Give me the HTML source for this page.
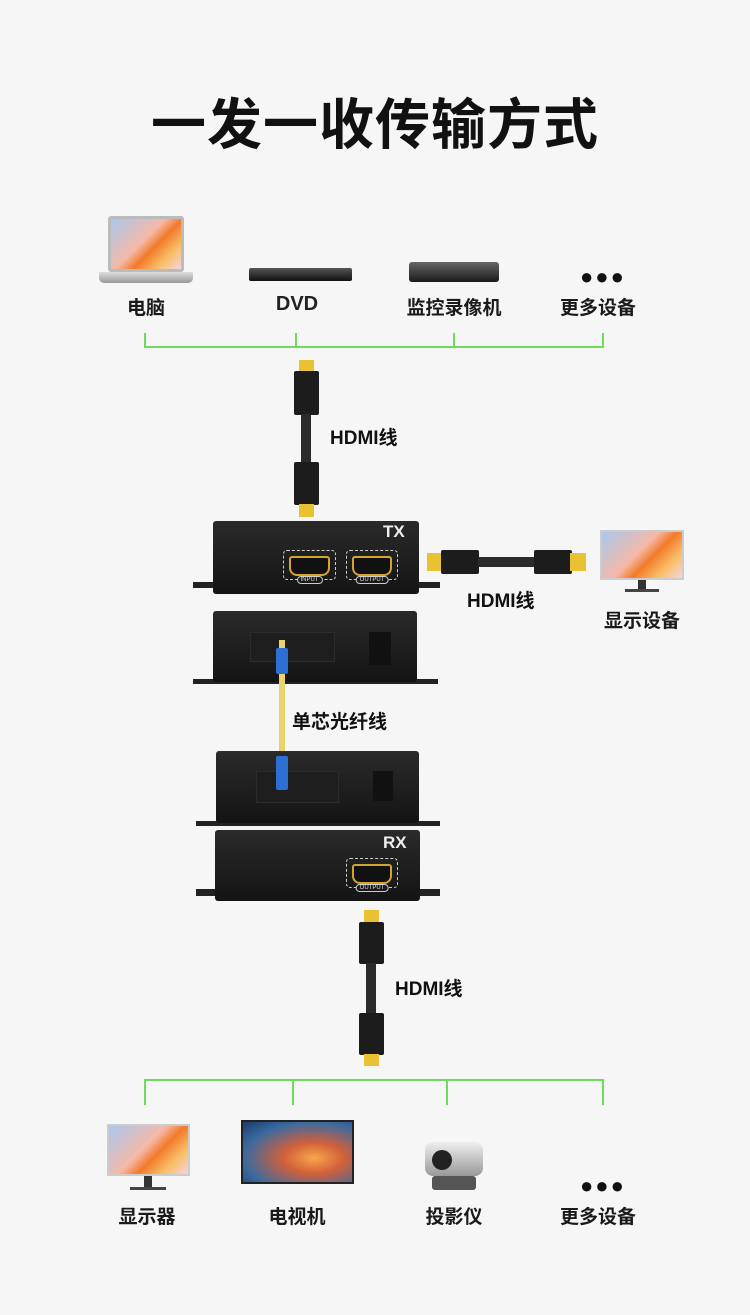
<!DOCTYPE html>
<html><head><meta charset="utf-8"><style>
*{margin:0;padding:0;box-sizing:border-box}
body{width:750px;height:1315px;background:#f6f6f6;position:relative;overflow:hidden;font-family:"Liberation Sans","Noto Sans CJK SC",sans-serif;color:#111}
.a{position:absolute}
.lb{position:absolute;font-size:19px;font-weight:bold;transform:translateX(-50%);white-space:nowrap;color:#1a1a1a}
.g{position:absolute;background:#6cdc5a}
.box{position:absolute;background:linear-gradient(180deg,#2a2a2a,#141414);border-radius:3px}
.fl{position:absolute;background:#222;height:6px}
.port{position:absolute;border:1.5px dashed #ccc;border-radius:4px}
.port i{position:absolute;left:5px;right:5px;top:5px;height:20px;background:#111;border:2.5px solid #d4a52a;border-radius:3px 3px 8px 8px}
.port b{position:absolute;bottom:-5px;left:50%;transform:translateX(-50%);font-size:6px;color:#ddd;border:1px solid #ccc;border-radius:6px;padding:0 3px;background:#1a1a1a;font-weight:normal}
.gold{position:absolute;background:#e8c233}
.blk{position:absolute;background:#1c1c1c;border-radius:2px}
.cab{position:absolute;background:#2b2b2b}
</style></head><body>
<div class="a" style="left:0;right:0;top:80px;text-align:center;font-size:55px;font-weight:bold;letter-spacing:1px;color:#111">一发一收传输方式</div>

<!-- top devices -->
<div class="a" style="left:108px;top:216px;width:76px;height:56px;background:#bbb;border-radius:3px;padding:3px"><div style="width:100%;height:100%;background:linear-gradient(135deg,#a8c8ee,#f4b9a8 45%,#f37a2a 60%,#f9c06a 80%,#f3d3e0)"></div></div>
<div class="a" style="left:99px;top:272px;width:94px;height:11px;background:linear-gradient(#ddd,#999);border-radius:0 0 5px 5px"></div>
<div class="a" style="left:249px;top:268px;width:103px;height:13px;background:linear-gradient(#555,#111);border-radius:2px"></div>
<div class="a" style="left:409px;top:262px;width:90px;height:20px;background:linear-gradient(#666,#1a1a1a);border-radius:3px"></div>
<div class="a" style="left:580px;top:264px;font-size:22px;font-weight:bold;letter-spacing:2px">●●●</div>
<div class="lb" style="left:146px;top:293px">电脑</div>
<div class="lb" style="left:297px;top:293px;font-size:20px;color:#222">DVD</div>
<div class="lb" style="left:454px;top:293px">监控录像机</div>
<div class="lb" style="left:598px;top:293px">更多设备</div>
<div class="g" style="left:144px;top:346px;width:460px;height:2px"></div>
<div class="g" style="left:144px;top:333px;width:2px;height:14px"></div>
<div class="g" style="left:295px;top:333px;width:2px;height:14px"></div>
<div class="g" style="left:453px;top:333px;width:2px;height:14px"></div>
<div class="g" style="left:602px;top:333px;width:2px;height:14px"></div>

<!-- top vertical HDMI -->
<div class="gold" style="left:299px;top:360px;width:15px;height:12px"></div>
<div class="blk" style="left:294px;top:371px;width:25px;height:44px"></div>
<div class="cab" style="left:301px;top:414px;width:10px;height:50px"></div>
<div class="blk" style="left:294px;top:462px;width:25px;height:43px"></div>
<div class="gold" style="left:299px;top:504px;width:15px;height:13px"></div>
<div class="a" style="left:330px;top:423px;font-size:19px;font-weight:bold">HDMI线</div>

<!-- TX front -->
<div class="fl" style="left:193px;top:582px;width:247px"></div>
<div class="box" style="left:213px;top:521px;width:206px;height:73px"></div>
<div class="a" style="left:383px;top:522px;color:#eee;font-size:17px;font-weight:bold">TX</div>
<div class="port" style="left:283px;top:550px;width:53px;height:30px"><i></i><b>INPUT</b></div>
<div class="port" style="left:346px;top:550px;width:52px;height:30px"><i></i><b>OUTPUT</b></div>

<!-- horizontal HDMI -->
<div class="gold" style="left:427px;top:553px;width:16px;height:18px"></div>
<div class="blk" style="left:441px;top:550px;width:38px;height:24px"></div>
<div class="cab" style="left:478px;top:557px;width:68px;height:10px"></div>
<div class="blk" style="left:534px;top:550px;width:38px;height:24px"></div>
<div class="gold" style="left:570px;top:553px;width:16px;height:18px"></div>
<div class="a" style="left:467px;top:586px;font-size:19px;font-weight:bold">HDMI线</div>
<div class="a" style="left:600px;top:530px;width:84px;height:50px;background:#ccc;padding:2px"><div style="width:100%;height:100%;background:linear-gradient(135deg,#a8c8ee,#f4b9a8 45%,#f37a2a 60%,#f9c06a 80%,#f3d3e0)"></div></div>
<div class="a" style="left:638px;top:580px;width:8px;height:10px;background:#333"></div>
<div class="a" style="left:625px;top:589px;width:34px;height:3px;background:#444"></div>
<div class="lb" style="left:642px;top:606px">显示设备</div>

<!-- TX back -->
<div class="fl" style="left:193px;top:679px;width:245px;height:5px"></div>
<div class="box" style="left:213px;top:611px;width:204px;height:71px"></div>
<div class="a" style="left:250px;top:632px;width:85px;height:30px;background:#1e1e1e;border:1px solid #2c2c2c"></div>
<div class="a" style="left:369px;top:632px;width:22px;height:33px;background:#111"></div>

<!-- fiber -->
<div class="a" style="left:279px;top:640px;width:6px;height:150px;background:#e9d36a"></div>
<div class="a" style="left:276px;top:648px;width:12px;height:26px;background:#2e6fd6;border-radius:2px"></div>
<div class="a" style="left:292px;top:707px;font-size:19px;font-weight:bold">单芯光纤线</div>

<!-- RX back -->
<div class="fl" style="left:196px;top:821px;width:244px;height:5px"></div>
<div class="box" style="left:216px;top:751px;width:203px;height:72px"></div>
<div class="a" style="left:256px;top:771px;width:83px;height:32px;background:#1e1e1e;border:1px solid #2c2c2c"></div>
<div class="a" style="left:373px;top:771px;width:20px;height:30px;background:#111"></div>
<div class="a" style="left:276px;top:756px;width:12px;height:34px;background:#2e6fd6;border-radius:2px"></div>

<!-- RX front -->
<div class="fl" style="left:196px;top:889px;width:244px;height:7px"></div>
<div class="box" style="left:215px;top:830px;width:205px;height:71px"></div>
<div class="a" style="left:383px;top:833px;color:#eee;font-size:17px;font-weight:bold">RX</div>
<div class="port" style="left:346px;top:858px;width:52px;height:30px"><i></i><b>OUTPUT</b></div>

<!-- bottom HDMI -->
<div class="gold" style="left:364px;top:910px;width:15px;height:13px"></div>
<div class="blk" style="left:359px;top:922px;width:25px;height:42px"></div>
<div class="cab" style="left:366px;top:963px;width:10px;height:52px"></div>
<div class="blk" style="left:359px;top:1013px;width:25px;height:42px"></div>
<div class="gold" style="left:364px;top:1054px;width:15px;height:12px"></div>
<div class="a" style="left:395px;top:974px;font-size:19px;font-weight:bold">HDMI线</div>

<div class="g" style="left:145px;top:1079px;width:459px;height:2px"></div>
<div class="g" style="left:144px;top:1079px;width:2px;height:26px"></div>
<div class="g" style="left:292px;top:1079px;width:2px;height:26px"></div>
<div class="g" style="left:446px;top:1079px;width:2px;height:26px"></div>
<div class="g" style="left:602px;top:1079px;width:2px;height:26px"></div>

<!-- bottom devices -->
<div class="a" style="left:107px;top:1124px;width:83px;height:52px;background:#ccc;padding:2px"><div style="width:100%;height:100%;background:linear-gradient(135deg,#a8c8ee,#f4b9a8 45%,#f37a2a 60%,#f9c06a 80%,#f3d3e0)"></div></div>
<div class="a" style="left:144px;top:1176px;width:8px;height:12px;background:#333"></div>
<div class="a" style="left:130px;top:1187px;width:36px;height:3px;background:#444"></div>
<div class="a" style="left:241px;top:1120px;width:113px;height:64px;background:#222;padding:2px"><div style="width:100%;height:100%;background:radial-gradient(ellipse at 65% 60%,#f9a64a,#d2603a 30%,#3a6aa0 70%,#1a3a6a)"></div></div>
<div class="a" style="left:425px;top:1142px;width:58px;height:34px;background:linear-gradient(#eee,#999);border-radius:8px"></div>
<div class="a" style="left:432px;top:1150px;width:20px;height:20px;background:#222;border-radius:50%"></div>
<div class="a" style="left:432px;top:1176px;width:44px;height:14px;background:#555;border-radius:3px"></div>
<div class="a" style="left:580px;top:1173px;font-size:22px;font-weight:bold;letter-spacing:2px">●●●</div>
<div class="lb" style="left:147px;top:1202px">显示器</div>
<div class="lb" style="left:297px;top:1202px">电视机</div>
<div class="lb" style="left:454px;top:1202px">投影仪</div>
<div class="lb" style="left:598px;top:1202px">更多设备</div>
</body></html>
